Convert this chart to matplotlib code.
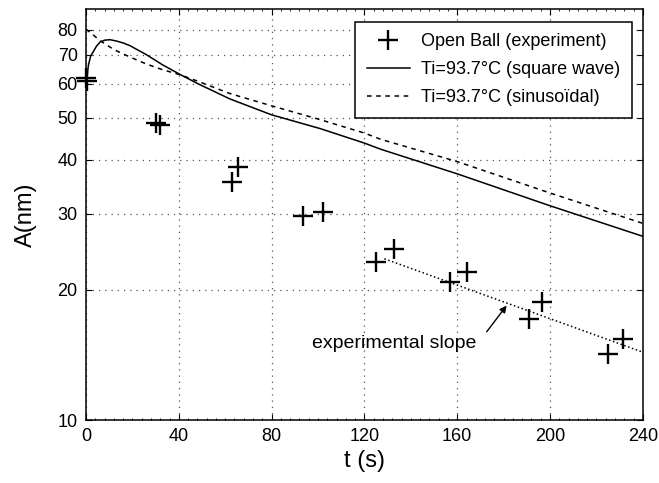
import numpy as np
import matplotlib
matplotlib.use("Agg")
import matplotlib.pyplot as plt
from matplotlib.ticker import FixedLocator, NullLocator, MultipleLocator

plt.rcParams['font.family'] = ['Liberation Sans', 'DejaVu Sans']

# experiment (open ball)
t_exp = [0, 0.5, 30, 32, 63, 65.5, 93.5, 102, 125, 132.8, 157, 164, 191, 196.7, 225, 231.6]
A_exp = [61.9, 60.9, 48.7, 48.0, 35.6, 38.5, 29.7, 30.3, 23.2, 24.9, 20.9, 22.0, 17.1, 18.7, 14.2, 15.4]

# model, square wave
t_sq = [0, 1, 2, 3.2, 4.5, 6, 8, 10.3, 13, 16, 19, 26, 33, 40.5, 48.4, 62, 80, 101, 120, 127, 160, 200, 240]
A_sq = [59, 66, 69.5, 71.2, 73.2, 74.8, 75.6, 75.8, 75.3, 74.5, 73.4, 70, 66.3, 63.0, 59.9, 55.3, 50.8, 47.2, 43.7, 42.3, 37.1, 31.3, 26.6]

# model, sinusoidal
t_sin = [0, 6, 12, 19, 26, 33, 40.5, 48.4, 62, 80, 101, 120, 127, 160, 200, 240]
A_sin = [80.2, 75.5, 71.9, 69.1, 66.6, 64.6, 62.9, 60.7, 56.9, 53.3, 49.5, 46.1, 44.6, 39.6, 33.5, 28.5]

# experimental slope
t_slope = [128.6, 240]
A_slope = [23.6, 14.35]

fig = plt.figure(figsize=(6.59, 4.83), dpi=100)
ax = fig.add_axes([0.1305, 0.1304, 0.845, 0.852])

ax.plot(t_exp, A_exp, '+', color='k', markersize=14, markeredgewidth=1.7,
        label='Open Ball (experiment)', clip_on=False, zorder=5)
ax.plot(t_sq, A_sq, '-', color='k', lw=1.1, label='Ti=93.7°C (square wave)')
ax.plot(t_sin, A_sin, '--', color='k', lw=1.1, dashes=(3, 3), label='Ti=93.7°C (sinusoïdal)')
ax.plot(t_slope, A_slope, ':', color='k', lw=1.1)

ax.text(133, 15.07, 'experimental slope', fontsize=14, ha='center', va='center')
ax.annotate('', xy=(181.3, 18.4), xytext=(172.7, 16.0),
            arrowprops=dict(arrowstyle='-|>', color='k', lw=1, mutation_scale=10,
                            shrinkA=0, shrinkB=0))

ax.set_yscale('log')
ax.set_xlim(0, 240)
ax.set_ylim(10, 89.5)
yt = [10, 20, 30, 40, 50, 60, 70, 80]
ax.yaxis.set_major_locator(FixedLocator(yt))
ax.yaxis.set_minor_locator(NullLocator())
ax.set_yticklabels([str(v) for v in yt])
ax.set_xticks([0, 40, 80, 120, 160, 200, 240])
ax.xaxis.set_minor_locator(MultipleLocator(4))

ax.tick_params(which='major', direction='in', top=True, right=True, length=4,
               labelsize=13, pad=6)
ax.tick_params(which='minor', direction='in', top=True, right=True, length=1.5)
for s in ax.spines.values():
    s.set_linewidth(1.1)

ax.grid(True, which='major', linestyle=(0, (1, 4)), color='#555555', lw=0.9)

ax.set_xlabel('t (s)', fontsize=17, labelpad=3)
ax.set_ylabel('A(nm)', fontsize=17, labelpad=15)

leg = ax.legend(loc='upper right', fontsize=13, frameon=True, fancybox=False,
                edgecolor='k', framealpha=1, handlelength=2.4, handletextpad=0.6,
                borderpad=0.65, labelspacing=0.6, borderaxespad=0,
                bbox_to_anchor=(0.980, 0.968))
leg.get_frame().set_linewidth(1.1)

fig.savefig('out.png', dpi=100)
